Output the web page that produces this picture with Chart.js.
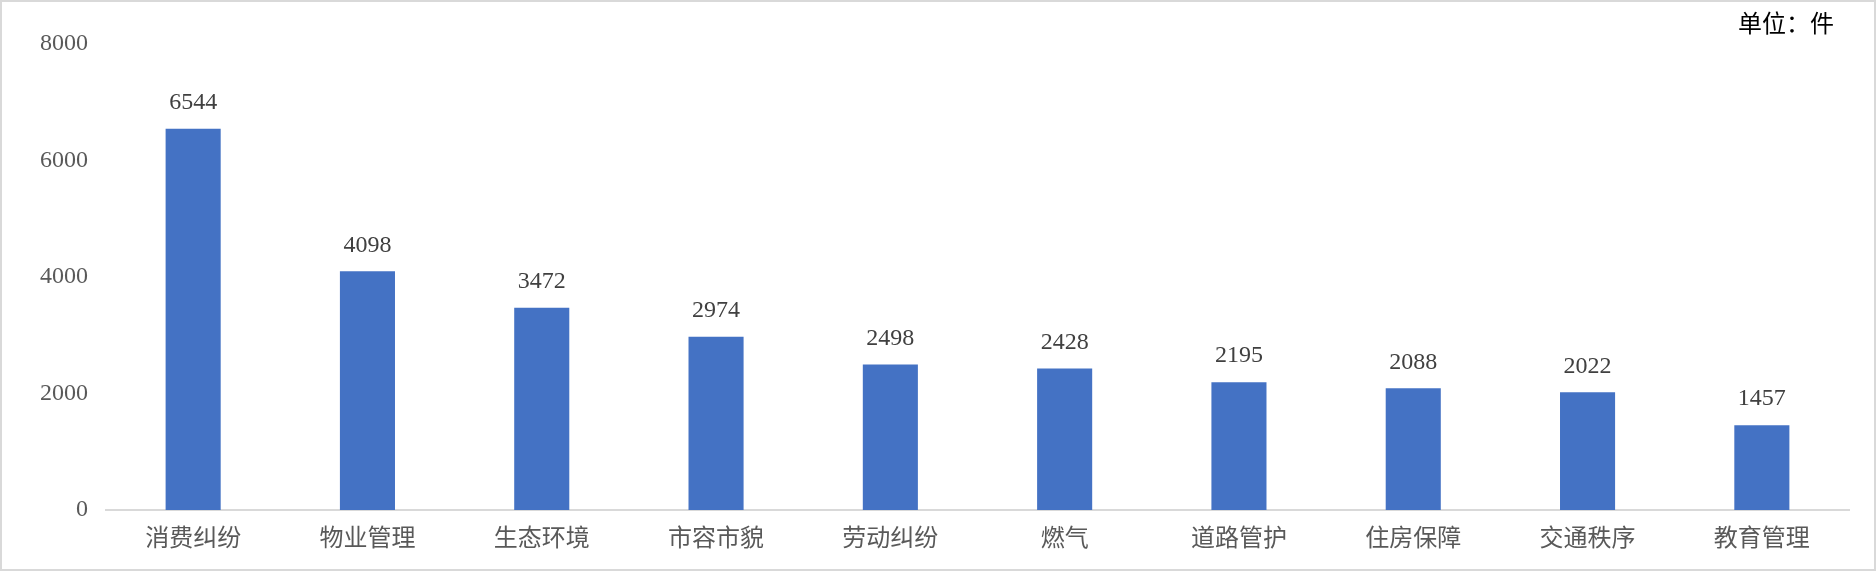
<!DOCTYPE html>
<html>
<head>
<meta charset="utf-8">
<script src="https://cdn.jsdelivr.net/npm/chart.js@4/dist/chart.umd.min.js"></script>
<style>
  html, body { margin: 0; padding: 0; background: #fff; }
  #wrap {
    position: relative;
    width: 1876px;
    height: 571px;
    background: #fff;
    box-shadow: inset 0 0 0 2px #d9d9d9;
  }
  #chart { position: absolute; left: 0; top: 0; }
</style>
</head>
<body>
<div id="wrap">
  <canvas id="chart" width="1876" height="571"></canvas>
</div>
<script>
// 诉求类别与数量（件）
const categories = ['消费纠纷', '物业管理', '生态环境', '市容市貌', '劳动纠纷', '燃气', '道路管护', '住房保障', '交通秩序', '教育管理'];
const counts = [6544, 4098, 3472, 2974, 2498, 2428, 2195, 2088, 2022, 1457];
const yTicks = [0, 2000, 4000, 6000, 8000];
const unitLabel = '单位：件';

const serif = '"Liberation Serif", "Times New Roman", serif';
const cjk = '"Noto Sans CJK SC", sans-serif';

// 柱顶数值
const valueLabels = {
    id: 'valueLabels',
    afterDatasetsDraw(chart) {
        const ctx = chart.ctx;
        const meta = chart.getDatasetMeta(0);
        ctx.save();
        ctx.font = '24px ' + serif;
        ctx.fillStyle = '#404040';
        ctx.textAlign = 'center';
        ctx.textBaseline = 'middle';
        meta.data.forEach((bar, i) => {
            ctx.fillText(String(counts[i]), bar.x, bar.y - 26);
        });
        ctx.restore();
    }
};

// 右上角单位
const unitText = {
    id: 'unitText',
    afterDraw(chart) {
        const ctx = chart.ctx;
        ctx.save();
        ctx.font = '24px ' + cjk;
        ctx.fillStyle = '#000';
        ctx.textAlign = 'right';
        ctx.textBaseline = 'middle';
        ctx.fillText(unitLabel, 1834, 23);
        ctx.restore();
    }
};

new Chart(document.getElementById('chart'), {
    type: 'bar',
    data: {
        labels: categories,
        datasets: [{
            data: counts,
            backgroundColor: '#4472c4',
            borderWidth: 0,
            categoryPercentage: 1,
            barPercentage: 0.316
        }]
    },
    options: {
        responsive: false,
        animation: false,
        layout: { padding: { left: 0, right: 27, top: 44, bottom: 0 } },
        plugins: {
            legend: { display: false },
            tooltip: { enabled: false }
        },
        scales: {
            x: {
                grid: { display: false, drawTicks: false },
                border: { display: true, color: '#d9d9d9', width: 2 },
                ticks: {
                    color: '#595959',
                    font: { family: cjk, size: 24 },
                    padding: 12,
                    maxRotation: 0
                },
                afterFit(scale) { scale.height = 61; }
            },
            y: {
                min: 0,
                max: 8000,
                afterBuildTicks(scale) {
                    scale.ticks = yTicks.map(v => ({ value: v }));
                },
                grid: { display: false, drawTicks: false },
                border: { display: false },
                ticks: {
                    color: '#595959',
                    font: { family: serif, size: 24 },
                    padding: 18,
                    callback: v => String(v)
                },
                afterFit(scale) { scale.width = 106; }
            }
        }
    },
    plugins: [valueLabels, unitText]
});
</script>
</body>
</html>
